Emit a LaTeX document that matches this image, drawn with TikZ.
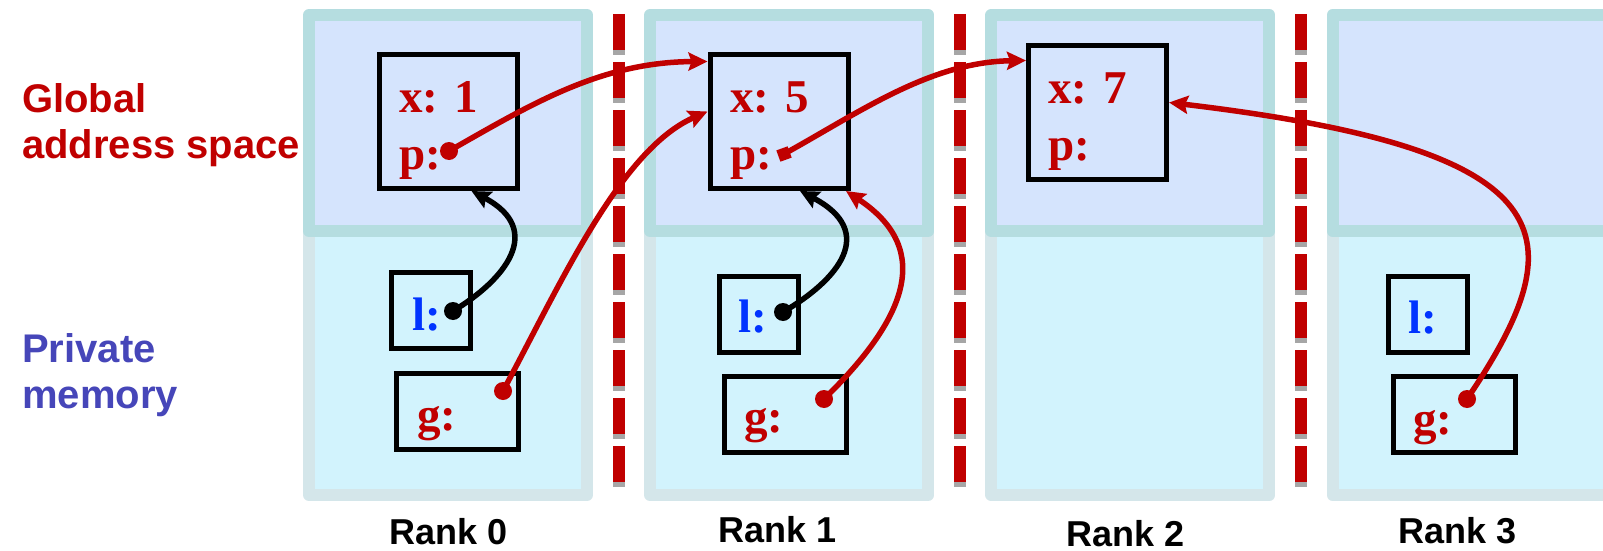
\documentclass[tikz,border=0pt]{standalone}
\usepackage{fontspec}
\setmainfont{Liberation Serif}
\newfontfamily\labelfont{Liberation Sans}
\usetikzlibrary{arrows.meta}

\definecolor{gasred}{RGB}{192,0,0}
\definecolor{lblue}{RGB}{0,51,255}
\definecolor{privblue}{RGB}{70,70,185}
\definecolor{globfill}{RGB}{213,228,253}
\definecolor{globedge}{RGB}{181,221,224}
\definecolor{privfill}{RGB}{210,243,253}
\definecolor{privedge}{RGB}{212,230,234}
\definecolor{dashshade}{RGB}{166,166,166}

\begin{document}
\begin{tikzpicture}[x=1pt, y=-1pt,
    cell/.style={draw, line width=5pt, inner sep=0pt},
    xcell/.style={cell, minimum width=138pt, minimum height=134pt},
    lcell/.style={cell, minimum width=79pt, minimum height=76pt},
    gcell/.style={cell, minimum width=122pt, minimum height=76pt},
    val/.style={anchor=base west, inner sep=0pt, font=\bfseries\fontsize{47}{56}\selectfont},
    side/.style={anchor=base west, inner sep=0pt, font=\labelfont\bfseries\fontsize{40}{48}\selectfont},
    rank/.style={anchor=base, inner sep=0pt, font=\labelfont\bfseries\fontsize{36}{43}\selectfont},
    dot/.style={circle, fill, inner sep=0pt, minimum size=18pt},
    sqdot/.style={rectangle, fill, inner sep=0pt, minimum size=12pt},
    link/.style={line width=5.5pt, -{Stealth[length=19pt, width=18pt, inset=3pt]}}
]
    \useasboundingbox (0,0) rectangle (1603,551);
    \clip (0,0) rectangle (1603,551);
    \fill[white] (0,0) rectangle (1603,551);

    % memory columns, one per rank
    \foreach \i in {0,...,3} {
        \pgfmathsetmacro\L{303+341.2*\i}
        \draw[line width=12pt, line join=round, draw=privedge, fill=privfill] ({\L+6},231) rectangle ({\L+284},495);
        \draw[line width=12pt, line join=round, draw=globedge, fill=globfill] ({\L+6},15) rectangle ({\L+284},231);
    }

    % separators between ranks
    \foreach \x in {619,960,1301} {
        \draw[dashshade, line width=12pt, dash pattern=on 36pt off 12pt] (\x,19) -- (\x,487);
        \draw[gasred, line width=12pt, dash pattern=on 36pt off 12pt] (\x,14) -- (\x,482);
    }

    % left labels
    \node[side, gasred] (glob1) at (22,112) {Global};
    \node[side, gasred] (glob2) at (22,158) {address space};
    \node[side, privblue] (priv1) at (22,362) {Private};
    \node[side, privblue] (priv2) at (22,408) {memory};

    % shared objects
    \node[xcell] (x0) at (448.5,121.5) {};
    \node[xcell] (x1) at (779,121.5) {};
    \node[xcell] (x2) at (1097.5,112.5) {};
    \node[val, gasred] (x0val) at (399,112) {x: 1};
    \node[val, gasred] (x0ptr) at (399,169) {p:};
    \node[val, gasred] (x1val) at (730,112) {x: 5};
    \node[val, gasred] (x1ptr) at (730,169) {p:};
    \node[val, gasred] (x2val) at (1048,103) {x: 7};
    \node[val, gasred] (x2ptr) at (1048,160) {p:};

    % private pointers
    \node[lcell] (l0) at (431,310.5) {};
    \node[lcell] (l1) at (758.5,314) {};
    \node[lcell] (l3) at (1428,314.5) {};
    \node[gcell] (g0) at (457.5,411) {};
    \node[gcell] (g1) at (785,414) {};
    \node[gcell] (g3) at (1454.5,414.5) {};
    \node[val, lblue] (l0val) at (412,330) {l:};
    \node[val, lblue] (l1val) at (738,332) {l:};
    \node[val, lblue] (l3val) at (1408,333) {l:};
    \node[val, gasred] (g0val) at (417,430) {g:};
    \node[val, gasred] (g1val) at (744,432) {g:};
    \node[val, gasred] (g3val) at (1413,434) {g:};

    % rank names
    \node[rank] (r0) at (449,544) {Rank 0};
    \node[rank] (r1) at (778,542) {Rank 1};
    \node[rank] (r2) at (1126,546) {Rank 2};
    \node[rank] (r3) at (1458,543) {Rank 3};

    % pointer ends
    \node[dot, gasred] (p0) at (449,151) {};
    \node[sqdot, gasred, rotate=20] (p1) at (784,154) {};
    \node[dot] (l0d) at (453,311) {};
    \node[dot] (l1d) at (783,312) {};
    \node[dot, gasred] (g0d) at (503,391) {};
    \node[dot, gasred] (g1d) at (824,399) {};
    \node[dot, gasred] (g3d) at (1467,399) {};

    % references
    \draw[link, gasred] (p0.center) .. controls (530,105) and (600,62) .. ([yshift=60pt]x1.west);
    \draw[link, gasred] (g0d.center) .. controls (560,285) and (620,150) .. ([yshift=10pt]x1.west);
    \draw[link] (l0d.center) .. controls (505,280) and (545,230) .. ([xshift=23pt]x0.south);
    \draw[link] (l1d.center) .. controls (838,280) and (878,232) .. ([xshift=21pt]x1.south);
    \draw[link, gasred] (g1d.center) .. controls (905,320) and (935,250) .. ([xshift=67pt]x1.south);
    \draw[link, gasred] (p1.center) .. controls (860,112) and (930,62) .. ([yshift=52pt]x2.west);
    \draw[link, gasred] (g3d.center) .. controls (1578,235) and (1568,150) .. ([yshift=10pt]x2.east);
\end{tikzpicture}
\end{document}
